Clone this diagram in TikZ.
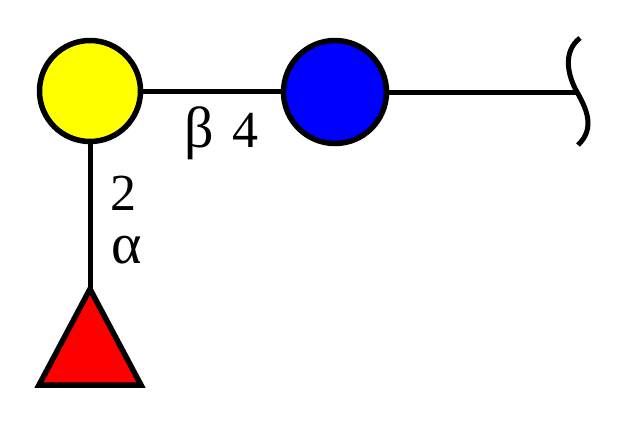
\documentclass[tikz,border=0pt]{standalone}
\usepackage{fontspec}
\setmainfont{Liberation Serif}
\definecolor{galy}{RGB}{255,255,0}
\definecolor{glcb}{RGB}{0,0,255}
\definecolor{fucr}{RGB}{255,0,0}
\begin{document}
\begin{tikzpicture}[x=1pt,y=-1pt,line width=5pt,
  sugar/.style={circle,draw=black,line width=5.5pt,minimum size=101pt,inner sep=0pt},
  lbl/.style={inner sep=0pt,anchor=base,font=\fontsize{52}{52}\selectfont},
  glbl/.style={inner sep=0pt,anchor=base,font=\fontsize{58}{58}\selectfont}]
\useasboundingbox (0,0) rectangle (630,440);
\coordinate (gal) at (90,91);
\coordinate (glc) at (335,92);
\coordinate (red) at (577,92);
\coordinate (fuc) at (90,289);
\draw (gal) -- (glc |- gal);
\draw (glc) -- (red);
\draw (gal) -- (fuc);
\node[sugar,fill=galy] (galn) at (gal) {};
\node[sugar,fill=glcb,minimum size=103pt] (glcn) at (glc) {};
\draw[fill=fucr,line join=miter,line width=5.5pt] (fuc) -- ++(-51,96) -- ++(102,0) -- cycle;
\draw (580,38) .. controls (562,52) and (568,76) .. (577,92) .. controls (586,108) and (596,128) .. (578,145);
\node[glbl] (b) at (199,147) {β};
\node[lbl] (f) at (245,147) {4};
\node[lbl] (two) at (123.5,210) {2};
\node[glbl] (al) at (127,263) {α};
\end{tikzpicture}
\end{document}
